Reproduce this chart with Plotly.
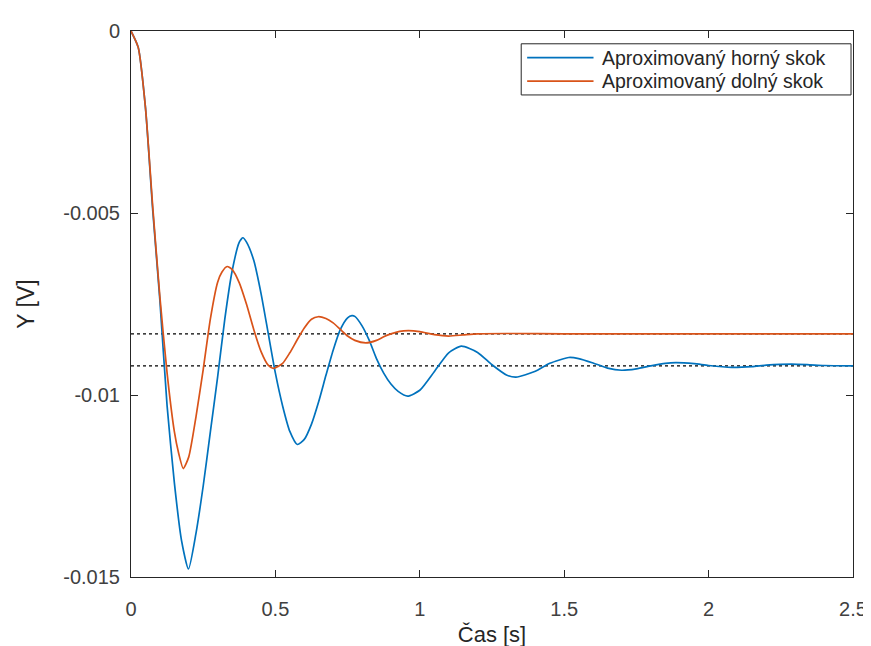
import plotly.graph_objects as go

# ---- data ----
t_horny = [0, 0.025, 0.05, 0.075, 0.1, 0.125, 0.15, 0.175, 0.199, 0.225, 0.25, 0.275,
           0.3, 0.325, 0.35, 0.375, 0.3875, 0.4, 0.425, 0.45, 0.475, 0.5, 0.525, 0.55,
           0.576, 0.6, 0.625, 0.65, 0.675, 0.7, 0.725, 0.75, 0.765, 0.775, 0.8, 0.825,
           0.85, 0.875, 0.9, 0.925, 0.958, 1.0, 1.05, 1.1, 1.144, 1.2, 1.25,
           1.3, 1.333, 1.4, 1.45, 1.516, 1.55, 1.6, 1.65, 1.699, 1.75, 1.8, 1.85, 1.887,
           1.95, 2.0, 2.08, 2.15, 2.2, 2.287, 2.35, 2.4, 2.5]
y_horny = [0, -0.00045, -0.0021, -0.0049, -0.0074, -0.0103, -0.0124, -0.0140, -0.01478,
           -0.0138, -0.0125, -0.0110, -0.0095, -0.0079, -0.0066, -0.0058, -0.00568,
           -0.0058, -0.0063, -0.0072, -0.0083, -0.0094, -0.0103, -0.0110, -0.01136,
           -0.01122, -0.0108, -0.01018, -0.00946, -0.00877, -0.0082, -0.00788, -0.00782,
           -0.00784, -0.0081, -0.0085, -0.0090, -0.0094, -0.0097, -0.0099, -0.01003,
           -0.00987, -0.00936, -0.00884, -0.00866, -0.00883, -0.00917, -0.00945,
           -0.00951, -0.00935, -0.00913, -0.00897, -0.0090, -0.00912, -0.00926,
           -0.00932, -0.00928, -0.0092, -0.00913, -0.00911, -0.00914, -0.00919,
           -0.00924, -0.00922, -0.00918, -0.00915, -0.00917, -0.00919, -0.0092]

t_dolny = [0, 0.025, 0.05, 0.075, 0.1, 0.125, 0.15, 0.165, 0.181, 0.2, 0.225, 0.25,
           0.275, 0.3, 0.315, 0.333, 0.35, 0.375, 0.4, 0.425, 0.45, 0.475, 0.493,
           0.525, 0.55, 0.575, 0.6, 0.625, 0.648, 0.675, 0.7, 0.725, 0.75, 0.775, 0.813,
           0.85, 0.875, 0.9, 0.93, 0.961, 1.0, 1.05, 1.1, 1.15, 1.2, 1.3, 1.5, 2.0, 2.5]
y_dolny = [0, -0.00045, -0.0021, -0.0048, -0.0073, -0.0094, -0.0110, -0.0116, -0.01202,
           -0.0117, -0.0106, -0.0093, -0.0079, -0.0069, -0.00662, -0.00647, -0.00655,
           -0.00692, -0.00751, -0.0082, -0.0088, -0.00918, -0.00927, -0.00913,
           -0.00884, -0.00849, -0.00816, -0.00792, -0.00785, -0.0079, -0.00802,
           -0.0082, -0.00838, -0.0085, -0.00857, -0.0085, -0.0084, -0.00832, -0.00825,
           -0.00823, -0.00826, -0.00834, -0.00838, -0.00835, -0.00832, -0.00831,
           -0.00832, -0.00832, -0.00832]

ustaleny_horny = -0.0092
ustaleny_dolny = -0.00832
t_range = [0, 2.5]

x_ticks = [0, 0.5, 1, 1.5, 2, 2.5]
x_ticktext = ["0", "0.5", "1", "1.5", "2", "2.5"]
y_ticks = [0, -0.005, -0.01, -0.015]
y_ticktext = ["0", "-0.005", "-0.01", "-0.015"]

names = ["Aproximovaný horný skok", "Aproximovaný dolný skok"]
colors = ["#0072BD", "#D95319"]

W, H = 871, 646
ML, MR, MT, MB = 123, 19, 18, 73
PW, PH = W - ML - MR, H - MT - MB


def px(x):
    return (x - ML) / PW


def py(y):
    return (H - MB - y) / PH


fig = go.Figure()
fig.add_trace(go.Scatter(x=t_range, y=[ustaleny_horny] * 2, mode="lines",
                         line=dict(color="black", width=1.3, dash="dot"),
                         showlegend=False, hoverinfo="skip"))
fig.add_trace(go.Scatter(x=t_range, y=[ustaleny_dolny] * 2, mode="lines",
                         line=dict(color="black", width=1.3, dash="dot"),
                         showlegend=False, hoverinfo="skip"))
fig.add_trace(go.Scatter(x=t_horny, y=y_horny, mode="lines", name=names[0],
                         line=dict(color=colors[0], width=1.7, shape="spline", smoothing=0.6),
                         showlegend=False))
fig.add_trace(go.Scatter(x=t_dolny, y=y_dolny, mode="lines", name=names[1],
                         line=dict(color=colors[1], width=1.7, shape="spline", smoothing=0.6),
                         showlegend=False))

axcol = "#262626"
font_family = "Liberation Sans, Arial, sans-serif"

# legend box drawn as in the reference (MATLAB style)
leg_left, leg_right, leg_top, leg_bot = 517, 850, 31, 83
rows = [45, 69]
shapes = [dict(type="rect", xref="paper", yref="paper",
               x0=px(leg_left), x1=px(leg_right), y0=py(leg_bot), y1=py(leg_top),
               line=dict(color=axcol, width=1), fillcolor="white", layer="above")]
annotations = []
for name, col, r in zip(names, colors, rows):
    shapes.append(dict(type="line", xref="paper", yref="paper",
                       x0=px(523), x1=px(590), y0=py(r), y1=py(r),
                       line=dict(color=col, width=1.7), layer="above"))
    annotations.append(dict(text=name, xref="paper", yref="paper", x=px(597), y=py(r),
                            xanchor="left", yanchor="middle", showarrow=False,
                            font=dict(size=19.5, color="#262626", family=font_family)))

fig.update_layout(
    width=W, height=H,
    margin=dict(l=ML, r=MR, t=MT, b=MB),
    paper_bgcolor="white", plot_bgcolor="white",
    font=dict(family=font_family, color="#404040", size=20),
    showlegend=False,
    shapes=shapes, annotations=annotations,
    xaxis=dict(range=[0, 2.5], tickvals=x_ticks, ticktext=x_ticktext,
               showgrid=False, zeroline=False, showline=True, linecolor=axcol,
               linewidth=1, mirror="allticks", ticks="inside", ticklen=7,
               tickcolor=axcol, tickfont=dict(size=20), ticklabelstandoff=14,
               title=dict(text="Čas [s]", font=dict(size=22, color="#262626"), standoff=7)),
    yaxis=dict(range=[-0.015, 0], tickvals=y_ticks, ticktext=y_ticktext,
               showgrid=False, zeroline=False, showline=True, linecolor=axcol,
               linewidth=1, mirror="allticks", ticks="inside", ticklen=7,
               tickcolor=axcol, tickfont=dict(size=20), ticklabelstandoff=6,
               title=dict(text="Y [V]", font=dict(size=23, color="#262626"), standoff=22)),
)

fig.write_html("out.html")
